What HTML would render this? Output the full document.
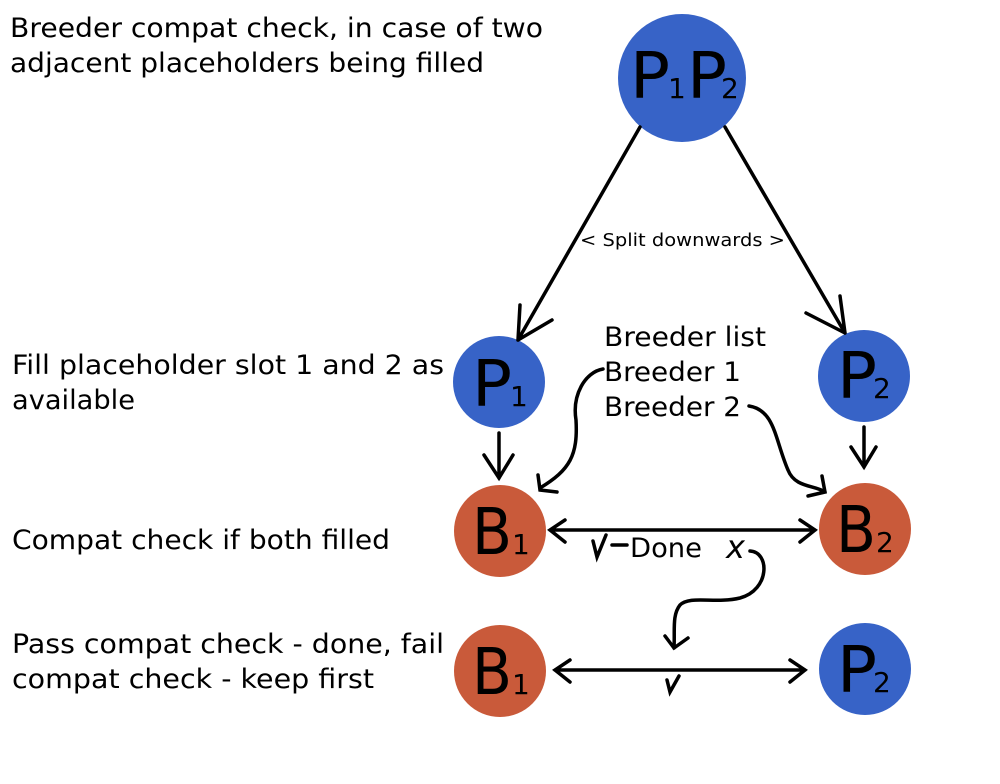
<!DOCTYPE html>
<html><head><meta charset="utf-8"><style>
html,body{margin:0;padding:0;background:#fff;}
svg{display:block;font-family:"DejaVu Sans","Liberation Sans",sans-serif;}
</style></head><body>
<svg width="1000" height="784" viewBox="0 0 1000 784">
<rect width="1000" height="784" fill="#fff"/>
<g font-size="27" fill="#000">
<text x="10" y="37" textLength="533" lengthAdjust="spacingAndGlyphs">Breeder compat check, in case of two</text>
<text x="10" y="72" textLength="474" lengthAdjust="spacingAndGlyphs">adjacent placeholders being filled</text>
<text x="12" y="374" textLength="432" lengthAdjust="spacingAndGlyphs">Fill placeholder slot 1 and 2 as</text>
<text x="12" y="409" textLength="123" lengthAdjust="spacingAndGlyphs">available</text>
<text x="12" y="549" textLength="378" lengthAdjust="spacingAndGlyphs">Compat check if both filled</text>
<text x="12" y="653" textLength="432" lengthAdjust="spacingAndGlyphs">Pass compat check - done, fail</text>
<text x="12" y="688" textLength="362" lengthAdjust="spacingAndGlyphs">compat check - keep first</text>
<text x="604" y="346" textLength="162" lengthAdjust="spacingAndGlyphs">Breeder list</text>
<text x="604" y="381" textLength="137" lengthAdjust="spacingAndGlyphs">Breeder 1</text>
<text x="604" y="416" textLength="137" lengthAdjust="spacingAndGlyphs">Breeder 2</text>
<text x="630" y="557" textLength="72" lengthAdjust="spacingAndGlyphs">Done</text>
<text x="726" y="558" font-style="italic" font-size="32">x</text>
</g>
<text x="580" y="246" font-size="18" textLength="205" lengthAdjust="spacingAndGlyphs">&lt; Split downwards &gt;</text>
<g fill="#3763c7"><circle cx="682" cy="78" r="64"/><circle cx="499" cy="382" r="46"/><circle cx="864" cy="376" r="46"/><circle cx="865" cy="669" r="46"/></g>
<g fill="#c95a3a"><circle cx="500" cy="531" r="46"/><circle cx="865" cy="529" r="46"/><circle cx="500" cy="671" r="46"/></g>
<g fill="#000">
<text x="630" y="98" font-size="64" textLength="40" lengthAdjust="spacingAndGlyphs">P</text><text x="668" y="98" font-size="28">1</text>
<text x="687" y="98" font-size="64" textLength="40" lengthAdjust="spacingAndGlyphs">P</text><text x="721" y="98" font-size="28">2</text>
<text x="472" y="406" font-size="64" textLength="40" lengthAdjust="spacingAndGlyphs">P</text><text x="510" y="406" font-size="28">1</text>
<text x="837" y="398" font-size="64" textLength="40" lengthAdjust="spacingAndGlyphs">P</text><text x="873" y="398" font-size="28">2</text>
<text x="472" y="554" font-size="64" textLength="40" lengthAdjust="spacingAndGlyphs">B</text><text x="512" y="554" font-size="28">1</text>
<text x="836" y="552" font-size="64" textLength="40" lengthAdjust="spacingAndGlyphs">B</text><text x="876" y="552" font-size="28">2</text>
<text x="472" y="694" font-size="64" textLength="40" lengthAdjust="spacingAndGlyphs">B</text><text x="512" y="694" font-size="28">1</text>
<text x="837" y="692" font-size="64" textLength="40" lengthAdjust="spacingAndGlyphs">P</text><text x="873" y="692" font-size="28">2</text>
</g>
<g stroke="#000" stroke-width="3.5" fill="none" stroke-linecap="round">
<path d="M640 127 L518 340 M518 340 L552 320 M518 340 L520 305"/>
<path d="M725 127 L845 333 M845 333 L806 313 M845 333 L840 296"/>
<path d="M499 433 L499 478 M484 455 L499 478 L513 455"/>
<path d="M864 427 L864 467 M851 447 L864 467 L876 447"/>
<path d="M550 530 L815 530 M565 520 L550 530 L565 542 M800 520 L815 530 L800 542"/>
<path d="M555 670 L805 670 M570 660 L555 670 L570 682 M790 660 L805 670 L790 682"/>
<path d="M603 369 C585 372 572 395 576 420 C578 455 570 470 540 488 M538 475 L540 490 L557 492"/>
<path d="M749 406 C775 410 775 440 788 470 C795 488 815 485 825 492 M808 496 L825 492 L822 476"/>
<path d="M750 551 C770 552 770 590 740 598 C715 604 690 595 680 605 C672 615 675 630 674 648 M665 636 L674 648 L688 638"/>
<path d="M593 541 L597 557 L606 535 M612 545 L627 545"/>
<path d="M667 680 L670 692 L679 676"/>
</g>
</svg>
</body></html>
